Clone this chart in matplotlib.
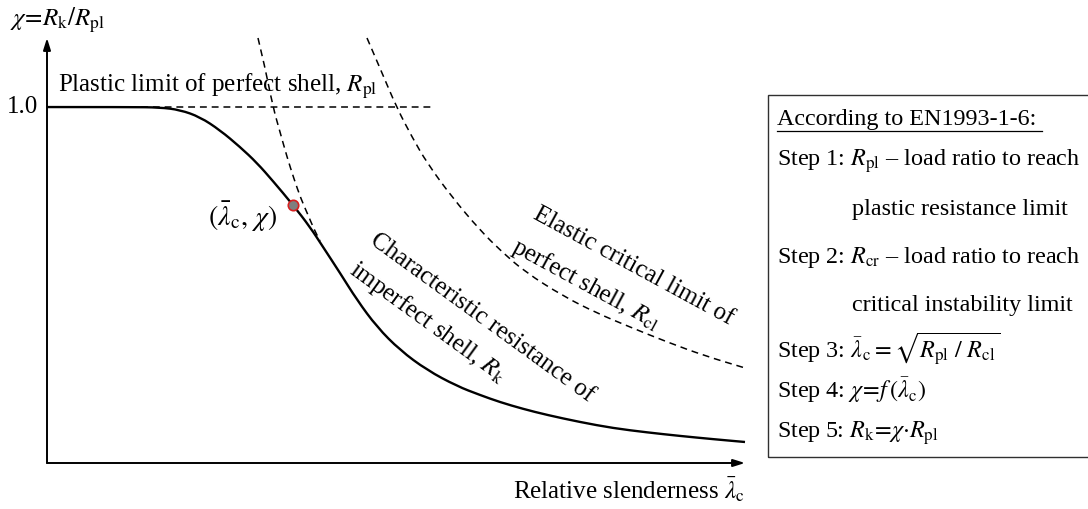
import matplotlib
matplotlib.use("Agg")
import matplotlib.pyplot as plt
from matplotlib.patches import Rectangle, PathPatch
from matplotlib.path import Path
from matplotlib.lines import Line2D

plt.rcParams["font.family"] = ["Liberation Serif", "DejaVu Serif"]
plt.rcParams["mathtext.fontset"] = "stix"

# Characteristic resistance of the imperfect shell, chi(lambda)
lam_k = [0.0, 0.415, 0.565, 0.665, 0.765, 0.865, 0.965, 1.05, 1.13, 1.23,
         1.315, 1.38, 1.465, 1.55, 1.65, 1.765, 1.9, 2.05, 2.165, 2.265,
         2.38, 2.5, 2.665, 2.83, 3.0, 3.165, 3.33, 3.49]
chi_k = [1.000, 1.000, 0.999, 0.992, 0.972, 0.935, 0.888, 0.843, 0.792, 0.725,
         0.663, 0.607, 0.534, 0.458, 0.382, 0.317, 0.261, 0.216, 0.191, 0.171,
         0.152, 0.135, 0.115, 0.098, 0.086, 0.076, 0.067, 0.059]

# Steep dashed branch near the design point
lam_inner = [1.055, 1.09, 1.13, 1.165, 1.2, 1.235, 1.27, 1.305, 1.335, 1.365]
chi_inner = [1.194, 1.112, 1.0, 0.930, 0.860, 0.798, 0.742, 0.697, 0.657, 0.624]

# Elastic critical limit of the perfect shell
lam_cl = [1.6, 1.675, 1.75, 1.825, 1.9, 2.025, 2.165, 2.275, 2.39, 2.58,
          2.75, 2.915, 3.1, 3.29, 3.49]
chi_cl = [1.194, 1.096, 0.997, 0.916, 0.843, 0.747, 0.654, 0.593, 0.537, 0.469,
          0.421, 0.382, 0.340, 0.301, 0.267]

# Plastic limit of the perfect shell
lam_pl = [0.0, 1.92]
chi_pl = [1.0, 1.0]

# Design point (lambda_c, chi)
point_lam = [1.23]
point_chi = [0.725]

LAM_MAX = 3.49
CHI_MAX = 1.194

W, H = 1088, 509
fig = plt.figure(figsize=(W / 100, H / 100), dpi=100)


def px(x, y):
    return x / W, 1 - y / H


def smooth_path(xs, ys):
    """Quadratic Bezier path using the points as control points."""
    verts = [(xs[0], ys[0])]
    codes = [Path.MOVETO]
    for i in range(1, len(xs) - 1):
        mx = 0.5 * (xs[i] + xs[i + 1])
        my = 0.5 * (ys[i] + ys[i + 1])
        verts += [(xs[i], ys[i]), (mx, my)]
        codes += [Path.CURVE3, Path.CURVE3]
    verts.append((xs[-1], ys[-1]))
    codes.append(Path.LINETO)
    return Path(verts, codes)


ax = fig.add_axes([47 / W, 46 / H, 698 / W, 425 / H])
ax.set_xlim(0, LAM_MAX)
ax.set_ylim(0, CHI_MAX)
ax.axis("off")

dash_style = dict(edgecolor="black", facecolor="none", lw=1.1,
                  linestyle=(0, (4.5, 3.2)), clip_on=False)
ax.plot(lam_pl, chi_pl, color="black", lw=1.1, dashes=[4.5, 3.2], clip_on=False)
ax.add_patch(PathPatch(smooth_path(lam_inner, chi_inner), **dash_style))
ax.add_patch(PathPatch(smooth_path(lam_cl, chi_cl), **dash_style))
ax.add_patch(PathPatch(smooth_path(lam_k, chi_k), edgecolor="black",
                       facecolor="none", lw=1.7, clip_on=False, zorder=3))
ax.plot(point_lam, point_chi, "o", ms=7.5, mfc="#7f7f7f", mec="#d62020", mew=1.2,
        clip_on=False, zorder=5)

arrow = dict(arrowstyle="-|>,head_length=0.7,head_width=0.22", color="black",
             lw=1.4, shrinkA=0, shrinkB=0)
ax.annotate("", xy=(LAM_MAX, 0), xytext=(0, 0), arrowprops=arrow,
            annotation_clip=False)
ax.annotate("", xy=(0, CHI_MAX), xytext=(0, 0), arrowprops=arrow,
            annotation_clip=False)

FS = 18
FS_BOX = 17.4
ax.text(-0.045, 1.0, "1.0", ha="right", va="center", fontsize=FS)

fig.text(*px(10, 20), r"$\chi\!=\!R_{\rm k}/R_{\rm pl}$", ha="left", va="center",
         fontsize=FS)
fig.text(*px(58, 92), r"Plastic limit of perfect shell, $R_{\rm pl}$", ha="left",
         va="baseline", fontsize=FS)
fig.text(*px(243, 217), r"$(\bar{\lambda}_{\rm c},\, \chi)$", ha="center",
         va="center", fontsize=FS + 2)
fig.text(*px(745, 490), r"Relative slenderness $\bar{\lambda}_{\rm c}$",
         ha="right", va="center", fontsize=FS)

rot_el = -28.5
fig.text(*px(633, 266), "Elastic critical limit of", rotation=rot_el,
         rotation_mode="anchor", ha="center", va="center", fontsize=FS)
fig.text(*px(586, 284), r"perfect shell, $R_{\rm cl}$", rotation=rot_el,
         rotation_mode="anchor", ha="center", va="center", fontsize=FS)

rot_k = -36
fig.text(*px(482, 318), "Characteristic resistance of", rotation=rot_k,
         rotation_mode="anchor", ha="center", va="center", fontsize=FS)
fig.text(*px(428, 322), r"imperfect shell, $R_{\rm k}$", rotation=rot_k,
         rotation_mode="anchor", ha="center", va="center", fontsize=FS)

# Procedure box
bx0, by0 = px(768, 457)
bx1, by1 = px(1100, 95)
fig.patches.append(Rectangle((bx0, by0), bx1 - bx0, by1 - by0,
                             transform=fig.transFigure, fill=False,
                             edgecolor="#303030", lw=1.0))

steps = [
    (777, 120, "According to EN1993-1-6:"),
    (777, 161, r"Step 1: $R_{\rm pl}$ – load ratio to reach"),
    (852, 209, "plastic resistance limit"),
    (777, 257, r"Step 2: $R_{\rm cr}$ – load ratio to reach"),
    (852, 305, "critical instability limit"),
    (777, 349, r"Step 3: $\bar{\lambda}_{\rm c} = \sqrt{R_{\rm pl}\ /\ R_{\rm cl}}$"),
    (777, 390, r"Step 4: $\chi\!=\!f\,(\bar{\lambda}_{\rm c})$"),
    (777, 433, r"Step 5: $R_{\rm k}\!=\!\chi{\cdot}R_{\rm pl}$"),
]
for x, y, s in steps:
    fig.text(*px(x, y), s, ha="left", va="center", fontsize=FS_BOX)

ux0, uy = px(777, 131)
ux1, _ = px(1042, 131)
fig.lines.append(Line2D([ux0, ux1], [uy, uy], transform=fig.transFigure,
                        color="black", lw=0.9))

fig.savefig("out.png", dpi=100)
